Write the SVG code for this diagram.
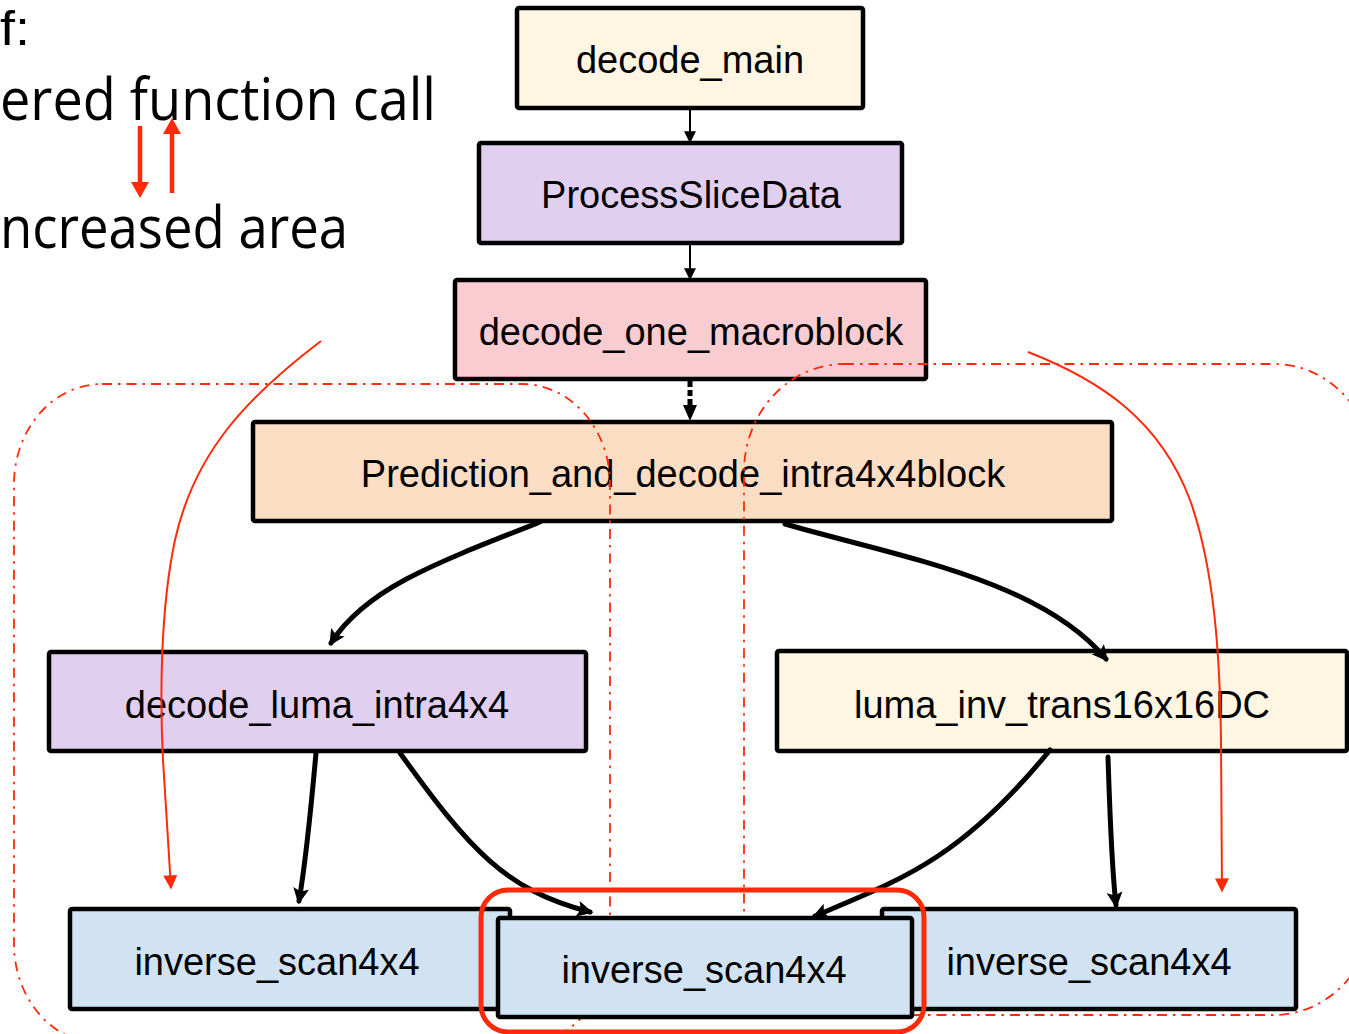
<svg xmlns="http://www.w3.org/2000/svg" width="1349" height="1034" viewBox="0 0 1349 1034">
  <style>
    .node { stroke: #000; stroke-width: 4.5; }
    .label { font-family: "Liberation Sans", Arial, sans-serif; font-size: 38px; fill: #000; text-anchor: middle; }
    .note { font-family: "Open Sans", "Liberation Sans", sans-serif; font-size: 58px; fill: #000; }
    .thin { fill: none; stroke: #000; stroke-width: 2; }
    .thick { fill: none; stroke: #000; stroke-width: 5; stroke-linecap: round; }
    .region { fill: none; stroke: #FF2A0A; stroke-width: 1.8; stroke-dasharray: 10 6 2.5 6; }
    .redcurve { fill: none; stroke: #FF2A0A; stroke-width: 2; }
    .cream { fill: #FEF6E2; }
    .lavender { fill: #E1CFEF; }
    .pink { fill: #F8CCD0; }
    .peach { fill: #FADDC3; }
    .blue { fill: #D1E3F3; }
  </style>
  <defs>
    <marker id="ahThin" viewBox="0 0 10 10" refX="9" refY="5" markerWidth="12" markerHeight="12" markerUnits="userSpaceOnUse" orient="auto">
      <path d="M0,0 L10,5 L0,10 z" fill="#000"/>
    </marker>
    <marker id="ahThick" viewBox="0 0 10 10" refX="8" refY="5" markerWidth="18" markerHeight="16" markerUnits="userSpaceOnUse" orient="auto">
      <path d="M0,0 L10,5 L0,10 L2,5 z" fill="#000"/>
    </marker>
    <marker id="ahRed" viewBox="0 0 10 10" refX="9" refY="5" markerWidth="15" markerHeight="14" markerUnits="userSpaceOnUse" orient="auto">
      <path d="M0,0 L10,5 L0,10 z" fill="#FF2A0A"/>
    </marker>
  </defs>

  <rect width="1349" height="1034" fill="#fff"/>

  <!-- legend text along the left edge -->
  <g id="legend">
    <text x="0" y="45" style="font-family:'Liberation Sans', Arial, sans-serif; font-size:48px" fill="#000" textLength="30" lengthAdjust="spacingAndGlyphs">f:</text>
    <text class="note" x="0" y="120" textLength="436" lengthAdjust="spacingAndGlyphs">ered function call</text>
    <text class="note" x="0" y="248" textLength="348" lengthAdjust="spacingAndGlyphs">ncreased area</text>
    <line x1="140" y1="126" x2="140" y2="184" stroke="#FF2A0A" stroke-width="4.5"/>
    <path d="M131,182 L149,182 L140,198 z" fill="#FF2A0A"/>
    <line x1="172" y1="193" x2="172" y2="132" stroke="#FF2A0A" stroke-width="4.5"/>
    <path d="M163,134 L181,134 L172,118 z" fill="#FF2A0A"/>
  </g>

  <!-- upper call chain -->
  <g id="decode_main">
    <rect class="node cream" x="517" y="8" width="346" height="100" rx="2"/>
    <text class="label" x="690" y="73">decode_main</text>
  </g>
  <g id="ProcessSliceData">
    <rect class="node lavender" x="479" y="143" width="423" height="100" rx="2"/>
    <text class="label" x="691" y="208">ProcessSliceData</text>
  </g>
  <g id="decode_one_macroblock">
    <rect class="node pink" x="455" y="280" width="471" height="99" rx="2"/>
    <text class="label" x="691" y="345">decode_one_macroblock</text>
  </g>
  <g id="Prediction_and_decode_intra4x4block">
    <rect class="node peach" x="253" y="422" width="859" height="99" rx="2"/>
    <text class="label" x="683" y="487">Prediction_and_decode_intra4x4block</text>
  </g>
  <g id="decode_luma_intra4x4">
    <rect class="node lavender" x="49" y="652" width="537" height="99" rx="2"/>
    <text class="label" x="317" y="718">decode_luma_intra4x4</text>
  </g>
  <g id="luma_inv_trans16x16DC">
    <rect class="node cream" x="777" y="651" width="570" height="100" rx="2"/>
    <text class="label" x="1062" y="718">luma_inv_trans16x16DC</text>
  </g>

  <!-- dash-dot outlines of the two areas -->
  <g id="areas">
    <rect class="region" x="14" y="384" width="596" height="660" rx="88" ry="100"/>
    <rect class="region" x="744" y="364" width="630" height="651" rx="100" ry="108"/>
  </g>

  <!-- red function-call arrows -->
  <g id="red-calls">
    <path class="redcurve" d="M321,341 C250,395 195,450 175,540 C160,610 160,700 163,760 L171,888" marker-end="url(#ahRed)"/>
    <path class="redcurve" d="M1028,352 C1100,380 1160,420 1190,500 C1215,570 1220,660 1221,740 L1222,891" marker-end="url(#ahRed)"/>
  </g>

  <!-- lower row -->
  <g id="inverse_scan4x4_left">
    <rect class="node blue" x="70" y="909" width="440" height="100" rx="2"/>
    <text class="label" x="277" y="975">inverse_scan4x4</text>
  </g>
  <g id="inverse_scan4x4_right">
    <rect class="node blue" x="882" y="909" width="414" height="100" rx="2"/>
    <text class="label" x="1089" y="975">inverse_scan4x4</text>
  </g>
  <g id="inverse_scan4x4_mid">
    <rect class="node blue" x="498" y="918" width="414" height="99" rx="2"/>
    <text class="label" x="704" y="983">inverse_scan4x4</text>
  </g>

  <!-- call edges -->
  <g id="connectors">
    <line class="thin" x1="690" y1="110" x2="690" y2="142" marker-end="url(#ahThin)"/>
    <line class="thin" x1="690" y1="245" x2="690" y2="279" marker-end="url(#ahThin)"/>
    <line x1="690" y1="381" x2="690" y2="406" stroke="#000" stroke-width="5" stroke-dasharray="6 3"/>
    <path d="M683,405 L697,405 L690,421 z" fill="#000"/>
    <path class="thick" d="M540,522 C430,565 365,590 331,643" marker-end="url(#ahThick)"/>
    <path class="thick" d="M785,524 C900,557 1040,580 1106,659" marker-end="url(#ahThick)"/>
    <path class="thick" d="M316,753 C310,820 306,860 299,901" marker-end="url(#ahThick)"/>
    <path class="thick" d="M400,753 C470,850 505,890 590,912" marker-end="url(#ahThick)"/>
    <path class="thick" d="M1050,750 C960,860 900,880 815,916" marker-end="url(#ahThick)"/>
    <path class="thick" d="M1108,757 C1110,820 1112,870 1116,905" marker-end="url(#ahThick)"/>
  </g>

  <!-- highlight around the shared callee -->
  <rect id="highlight" x="481" y="890" width="443" height="142" rx="27" fill="none" stroke="#FF2A0A" stroke-width="5"/>
</svg>
